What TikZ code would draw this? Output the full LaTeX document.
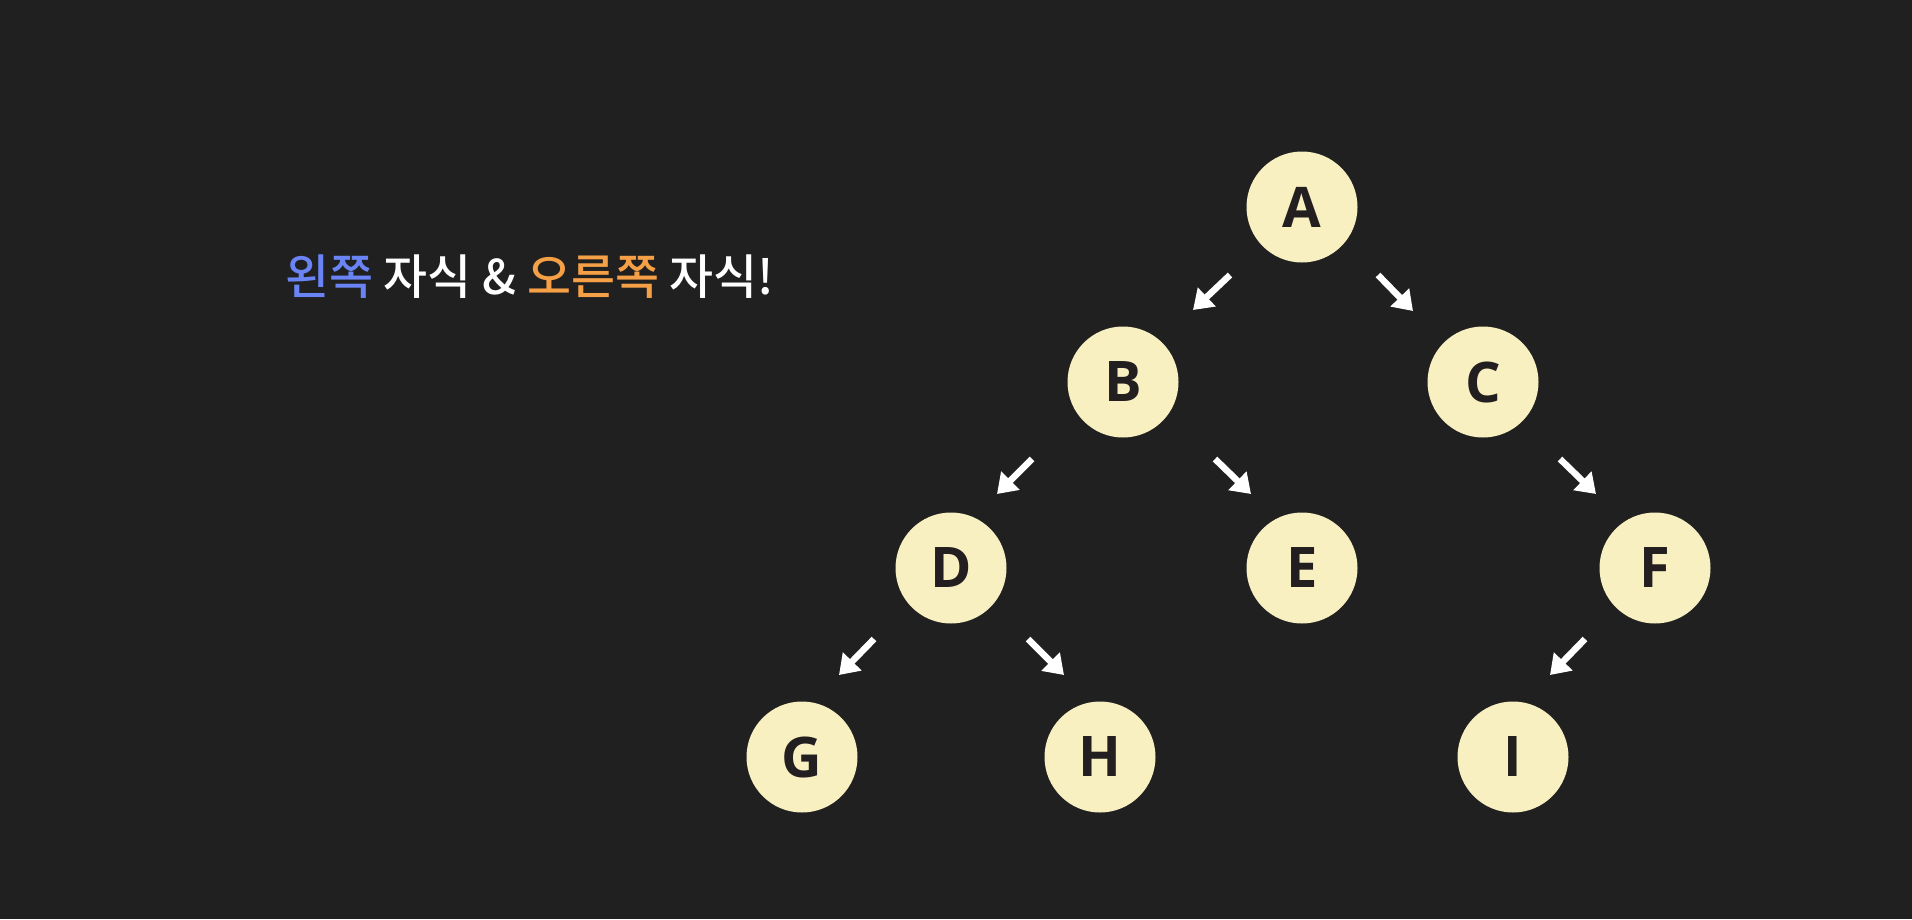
\documentclass[tikz,border=0pt]{standalone}
\usepackage{fontspec}
\setmainfont{Noto Sans CJK KR}
\newfontfamily\titlefont{Noto Sans CJK KR Medium}
\newfontfamily\letterfont{Open Sans}
\usetikzlibrary{arrows.meta,calc}

\definecolor{bgdark}{HTML}{202020}
\definecolor{nodefill}{HTML}{F9F0C2}
\definecolor{nodetext}{HTML}{231F20}
\definecolor{leftblue}{HTML}{6A84F5}
\definecolor{rightorange}{HTML}{F5A047}

\tikzset{
    x=1pt, y=-1pt,
    every node/.style={inner sep=0pt},
    vertex/.style={circle, fill=nodefill, text=nodetext, minimum size=111pt,
        font=\letterfont\bfseries\fontsize{56}{56}\selectfont},
    title/.style={text=white, anchor=base west, font=\titlefont\fontsize{47.8}{48}\selectfont},
    link/.style={draw=white, line width=6.5pt, -{Triangle[width=25pt,length=19pt]}},
}

\begin{document}
\begin{tikzpicture}
    \fill[bgdark] (0,0) rectangle (1912,919);

    \node[title] (caption) at (285,294)
        {\textcolor{leftblue}{왼쪽} 자식 \& \textcolor{rightorange}{오른쪽} 자식!};

    % tree
    \node[vertex] (A) at (1302,207) {A};
    \node[vertex] (B) at (1123,382) {B};
    \node[vertex] (C) at (1483,382) {C};
    \node[vertex] (D) at (951,568) {D};
    \node[vertex] (E) at (1302,568) {E};
    \node[vertex] (F) at (1655,568) {F};
    \node[vertex] (G) at (802,757) {G};
    \node[vertex] (H) at (1100,757) {H};
    \node[vertex] (I) at (1513,757) {I};

    % arrows
    \draw[link] ($(A)+(-72,68)$) -- ($(A)+(-109,103)$);
    \draw[link] ($(A)+(76,68)$) -- ($(A)+(111,104)$);
    \draw[link] ($(B)+(-91,77)$) -- ($(B)+(-126,112)$);
    \draw[link] ($(B)+(92,77)$) -- ($(B)+(128,112)$);
    \draw[link] ($(C)+(77,77)$) -- ($(C)+(113,112)$);
    \draw[link] ($(D)+(-77,71)$) -- ($(D)+(-112,107)$);
    \draw[link] ($(D)+(77,71)$) -- ($(D)+(113,107)$);
    \draw[link] ($(F)+(-70,71)$) -- ($(F)+(-105,107)$);
\end{tikzpicture}
\end{document}
